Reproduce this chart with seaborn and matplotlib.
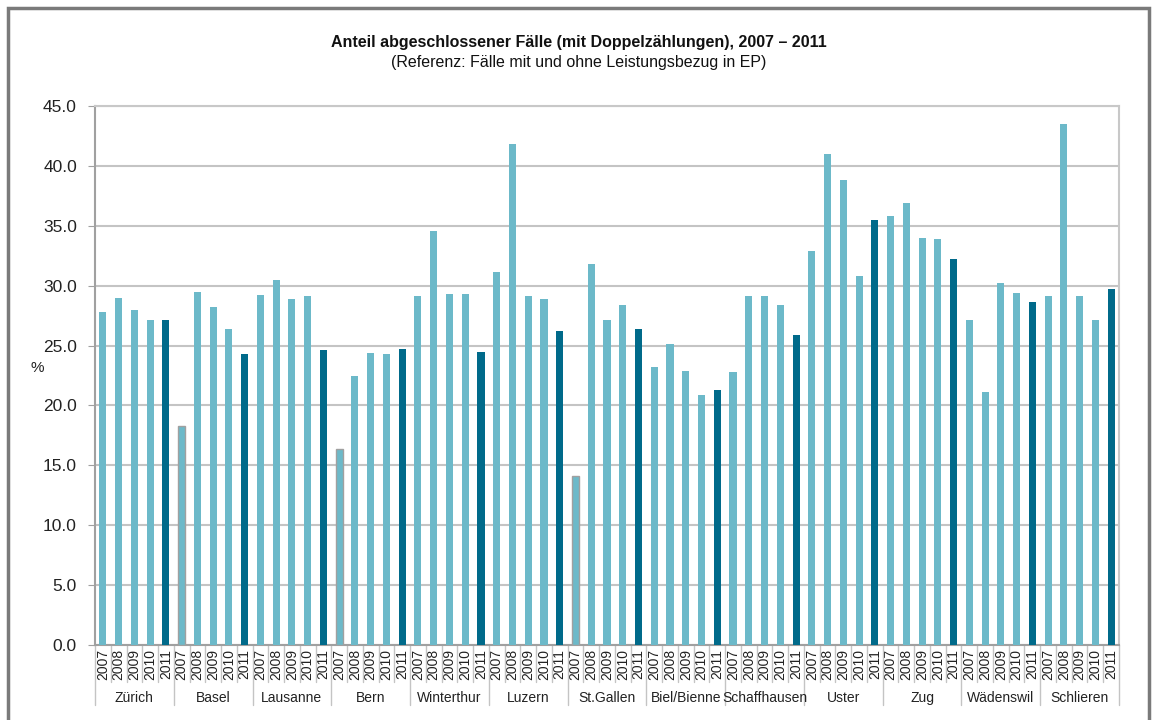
import matplotlib
matplotlib.use("Agg")
import matplotlib.pyplot as plt
import matplotlib.transforms as mtransforms
from matplotlib.patches import Rectangle
import pandas as pd
import seaborn as sns

# data
cities = ["Zürich", "Basel", "Lausanne", "Bern", "Winterthur", "Luzern", "St.Gallen",
          "Biel/Bienne", "Schaffhausen", "Uster", "Zug", "Wädenswil", "Schlieren"]
years = ["2007", "2008", "2009", "2010", "2011"]
values = [
    [27.8, 29.0, 28.0, 27.1, 27.1],   # Zürich
    [18.3, 29.5, 28.2, 26.4, 24.3],   # Basel
    [29.2, 30.5, 28.9, 29.1, 24.6],   # Lausanne
    [16.4, 22.5, 24.4, 24.3, 24.7],   # Bern
    [29.1, 34.6, 29.3, 29.3, 24.5],   # Winterthur
    [31.1, 41.8, 29.1, 28.9, 26.2],   # Luzern
    [14.1, 31.8, 27.1, 28.4, 26.4],   # St.Gallen
    [23.2, 25.1, 22.9, 20.9, 21.3],   # Biel/Bienne
    [22.8, 29.1, 29.1, 28.4, 25.9],   # Schaffhausen
    [32.9, 41.0, 38.8, 30.8, 35.5],   # Uster
    [35.8, 36.9, 34.0, 33.9, 32.2],   # Zug
    [27.1, 21.1, 30.2, 29.4, 28.6],   # Wädenswil
    [29.1, 43.5, 29.1, 27.1, 29.7],   # Schlieren
]
# 2007 bars outlined in grey (different reference basis)
flagged = ["Basel", "Bern", "St.Gallen"]

light = "#6cb9c9"
dark = "#006a8a"
grey_edge = "#a0a0a0"

rows = []
for c, vals in zip(cities, values):
    for y, v in zip(years, vals):
        rows.append({"slot": c + " " + y, "city": c, "year": y, "value": v})
df = pd.DataFrame(rows)
colors = [dark if y == "2011" else light for y in df["year"]]

sns.set_style("white")
plt.rcParams["font.family"] = ["Liberation Sans", "DejaVu Sans"]

fig = plt.figure(figsize=(11.57, 7.2), dpi=100)
ax = fig.add_axes([95 / 1157, 1 - 645 / 720, (1119 - 95) / 1157, (645 - 106) / 720])

sns.barplot(data=df, x="slot", y="value", hue="slot", palette=colors,
            legend=False, width=0.45, saturation=1, ax=ax, zorder=3)

for p, (_, r) in zip(ax.patches, df.iterrows()):
    if r["year"] == "2007" and r["city"] in flagged:
        p.set_edgecolor(grey_edge)
        p.set_linewidth(1.0)
    else:
        p.set_linewidth(0)

n = len(df)
ax.set_xlim(-0.5, n - 0.5)
ax.set_ylim(0, 45)
ax.set_yticks([i * 5 for i in range(10)])
ax.set_yticklabels([f"{i * 5:.1f}" for i in range(10)], fontsize=12.5, color="#222222")
ax.yaxis.grid(True, color="#c4c4c4", linewidth=1.5, zorder=0)
ax.tick_params(axis="y", left=True, length=5, color="#a0a0a0", pad=8)

ax.set_xticks(range(n))
ax.set_xticklabels(df["year"], rotation=90, fontsize=10, color="#222222")
ax.tick_params(axis="x", length=0, pad=3)
ax.set_xlabel("")
ax.set_ylabel("%", rotation=0, fontsize=11, color="#222222")
ax.yaxis.set_label_coords(-0.056, 0.5)

for side, col in [("left", "#a0a0a0"), ("bottom", "#a0a0a0"), ("top", "#c8c8c8"), ("right", "#c8c8c8")]:
    ax.spines[side].set_visible(True)
    ax.spines[side].set_color(col)
    ax.spines[side].set_linewidth(1.5)

# separators and city group labels below the axis
trans = mtransforms.blended_transform_factory(ax.transData, ax.transAxes)
for i in range(n + 1):
    low = -0.112 if i % 5 == 0 else -0.068
    ax.plot([i - 0.5, i - 0.5], [0, low], transform=trans, color="#c4c4c4",
            linewidth=1, clip_on=False)
for k, c in enumerate(cities):
    ax.text(k * 5 + 2, -0.099, c, transform=trans, ha="center", va="center",
            fontsize=10, color="#222222")

fig.text(0.5, 1 - 43 / 720, "Anteil abgeschlossener Fälle (mit Doppelzählungen), 2007 – 2011",
         ha="center", va="center", fontsize=11.5, fontweight="bold", color="#111111")
fig.text(0.5, 1 - 63 / 720, "(Referenz: Fälle mit und ohne Leistungsbezug in EP)",
         ha="center", va="center", fontsize=11.5, color="#111111")

# outer chart frame
fig.patches.append(Rectangle((8 / 1157, -0.05), (1149 - 8) / 1157, 1.05 - 8 / 720,
                             transform=fig.transFigure, fill=False,
                             edgecolor="#7a7a7a", linewidth=2.5))

fig.savefig("out.png", dpi=100)
